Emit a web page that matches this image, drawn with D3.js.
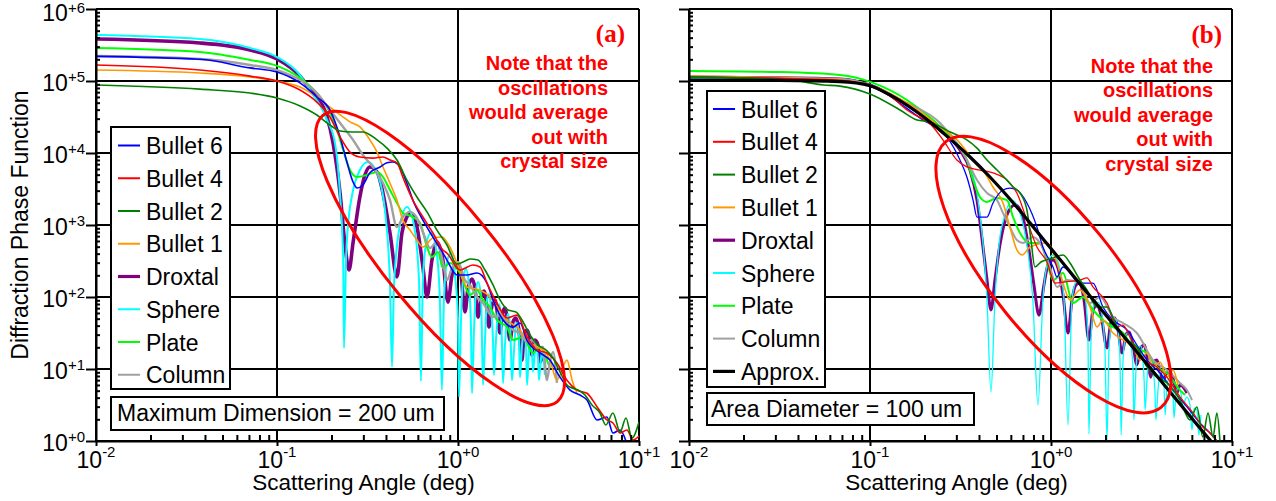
<!DOCTYPE html>
<html>
<head>
<meta charset="utf-8">
<script src="https://cdn.jsdelivr.net/npm/d3@7"></script>
<style>
  html, body { margin: 0; padding: 0; background: #ffffff; }
  svg { display: block; font-family: "Liberation Sans", Arial, sans-serif; }
</style>
</head>
<body>
<svg id="chart" width="1276" height="501"></svg>
<script>
// ---------------------------------------------------------------
// Diffraction phase function vs scattering angle, two size bases.
// Each series is a list of [angle (deg), phase function] pairs.
// ---------------------------------------------------------------

const seriesNames  = ["Bullet 6", "Bullet 4", "Bullet 2", "Bullet 1", "Droxtal", "Sphere", "Plate", "Column", "Approx."];
const seriesColors = ["#0000ff", "#ff0000", "#008000", "#ff9900", "#800080", "#00ffff", "#00ff00", "#a0a0a0", "#000000"];

const xTickExponents = [-2, -1, 0, 1];
const yTickExponents = [0, 1, 2, 3, 4, 5, 6];
const noteLines = ["Note that the", "oscillations", "would average", "out with", "crystal size"];

// ---- (a) Maximum Dimension = 200 um ----
const bullet6A = [[0.01,2.2e5],[0.0375,2.0e5],[0.071,1.52e5],[0.1,1.33e5],[0.134,9.4e4],[0.166,6.0e4],[0.196,3.96e4],[0.223,1.67e4],[0.244,7.3e3],[0.263,3.96e3],[0.277,3.26e3],[0.298,3.6e3],[0.326,5.3e3],[0.371,6.4e3],[0.405,7.3e3],[0.437,7.5e3],[0.478,6.4e3],[0.522,3.8e3],[0.564,2.2e3],[0.64,1.17e3],[0.727,680],[0.825,410],[0.869,326],[0.987,202],[1.12,202],[1.273,215],[1.446,156],[1.561,91],[1.773,48],[2.013,38],[2.2,43.5],[2.406,25],[2.84,16.7],[3.22,13.3],[3.66,7.7],[4.16,5.1],[4.72,4.35],[5.16,3.7],[5.86,1.96],[6.65,2.15],[7.18,1.29],[7.86,1.42],[8.47,1.0]];
const bullet4A = [[0.01,1.67e5],[0.0375,1.42e5],[0.071,1.17e5],[0.1,1.0e5],[0.134,7.5e4],[0.166,5.1e4],[0.196,3.16e4],[0.223,1.67e4],[0.253,1.03e4],[0.287,8.8e3],[0.339,8.5e3],[0.385,8.8e3],[0.421,8.0e3],[0.46,7.3e3],[0.496,4.6e3],[0.564,2.2e3],[0.64,1.29e3],[0.727,774],[0.825,450],[0.869,408],[1.026,237],[1.21,278],[1.323,261],[1.446,156],[1.642,82],[1.866,51],[2.117,56],[2.406,28],[2.73,18.4],[3.1,16.7],[3.52,12.1],[4.0,7.0],[4.54,5.1],[5.16,4.6],[5.86,3.0],[6.65,1.96],[7.18,1.78],[7.86,1.29],[8.58,1.42],[9.26,1.03],[10,1.17]];
const bullet2A = [[0.01,8.8e4],[0.0375,7.7e4],[0.071,6.8e4],[0.1,5.8e4],[0.134,4.5e4],[0.166,3.37e4],[0.196,2.45e4],[0.223,2.02e4],[0.26,1.96e4],[0.298,1.96e4],[0.357,1.52e4],[0.405,1.17e4],[0.46,8.0e3],[0.522,4.2e3],[0.593,2.45e3],[0.674,1.52e3],[0.765,850],[0.869,527],[0.987,287],[1.066,306],[1.165,337],[1.29,326],[1.41,237],[1.561,147],[1.706,91],[1.889,66],[2.09,62],[2.257,48],[2.5,29.7],[2.766,21.5],[3.06,18.4],[3.35,14.2],[3.66,9.1],[4.0,6.0],[4.27,5.45],[4.6,5.1],[5.03,4.35],[5.5,3.16],[6.09,2.45],[6.56,1.67],[7.18,2.45],[7.86,1.33],[8.47,2.09],[9.14,1.1],[10,1.84]];
const bullet1A = [[0.01,1.42e5],[0.0375,1.29e5],[0.071,1.14e5],[0.1,1.0e5],[0.134,8.25e4],[0.166,6.0e4],[0.196,4.35e4],[0.232,3.16e4],[0.253,2.7e4],[0.287,2.3e4],[0.326,1.52e4],[0.357,1.03e4],[0.385,6.4e3],[0.421,3.8e3],[0.46,2.2e3],[0.496,1.17e3],[0.543,850],[0.593,620],[0.64,495],[0.727,660],[0.815,680],[0.902,495],[0.987,297],[1.12,138],[1.323,125],[1.502,100],[1.642,72.6],[1.866,48],[2.2,34.8],[2.406,25.3],[2.73,20.2],[2.948,18.4],[3.22,13.3],[3.52,7.0],[4.0,13.3],[4.27,7.0],[4.54,4.64]];
const droxtalA = [[0.01,3.83e5],[0.0375,3.37e5],[0.071,2.7e5],[0.1,2.02e5],[0.134,1.17e5],[0.158,6.8e4],[0.166,6.0e4],[0.189,3.16e4],[0.204,1.38e4],[0.223,2.78e3],[0.237,562],[0.25,237],[0.263,562],[0.287,2.45e3],[0.306,4.95e3],[0.326,6.4e3],[0.357,5.45e3],[0.385,2.78e3],[0.421,774],[0.46,190],[0.49,774],[0.522,1.29e3],[0.543,1.47e3],[0.593,938],[0.64,261],[0.674,100],[0.718,326],[0.765,581],[0.825,326],[0.88,85],[0.926,202],[0.987,297],[1.039,202],[1.093,62],[1.136,133],[1.195,178],[1.241,133],[1.29,52.7],[1.34,97],[1.392,121],[1.428,91],[1.483,38.3],[1.541,77],[1.6,91],[1.642,66],[1.706,31.6],[1.75,56],[1.818,70],[1.866,51],[1.937,25.3],[2.013,45],[2.09,51],[2.17,34.8],[2.257,13.3],[2.315,29.7],[2.406,34.8],[2.5,25.3],[2.56,15.6],[2.66,25.3],[2.766,21.5],[2.84,12.5],[2.948,17.2]];
const sphereA = [[0.01,4.35e5],[0.0375,3.83e5],[0.071,2.87e5],[0.1,2.15e5],[0.134,1.21e5],[0.158,6.4e4],[0.173,4.6e4],[0.189,2.87e4],[0.209,1.38e4],[0.223,2.6e3],[0.232,326],[0.2345,19.6],[0.2406,326],[0.25,1.38e3],[0.26,2.6e3],[0.287,5.8e3],[0.318,7.5e3],[0.361,4.95e3],[0.40,1.17e3],[0.421,147],[0.432,10.7],[0.443,147],[0.478,1.0e3],[0.522,1.78e3],[0.571,1.0e3],[0.609,172],[0.624,6.8],[0.64,172],[0.665,527],[0.709,774],[0.765,383],[0.794,91],[0.815,5.1],[0.836,91],[0.869,306],[0.914,408],[0.962,202],[1.0,48],[1.013,4.1],[1.039,48],[1.066,172],[1.107,245],[1.15,147],[1.18,34.8],[1.195,4.6],[1.226,34.8],[1.257,125],[1.29,162],[1.34,107],[1.357,25.3],[1.375,6.0],[1.41,25.3],[1.446,91],[1.483,110],[1.522,66],[1.561,25.3],[1.58,8.25],[1.621,25.3],[1.664,66],[1.685,80],[1.729,56],[1.75,21.5],[1.773,6.4],[1.818,21.5],[1.866,51],[1.889,58],[1.937,40.8],[1.962,18.4],[1.987,7.0],[2.04,18.4],[2.09,40.8],[2.117,43.5],[2.17,29.7],[2.2,7.7],[2.257,21.5],[2.315,31.6],[2.375,21.5],[2.406,6.0],[2.468,18.4],[2.5,25.3],[2.56,18.4],[2.596,9.1],[2.66,17.2],[2.69,20.9],[2.766,14.2],[2.8,7.0],[2.87,13.3],[2.91,17.2],[2.98,12.5],[3.02,8.25]];
const plateA = [[0.01,2.87e5],[0.0375,2.53e5],[0.071,1.96e5],[0.1,1.62e5],[0.134,1.1e5],[0.166,6.8e4],[0.189,4.35e4],[0.2145,2.09e4],[0.232,1.1e4],[0.253,5.8e3],[0.277,4.64e3],[0.314,4.95e3],[0.357,5.45e3],[0.385,4.64e3],[0.421,3.06e3],[0.46,2.02e3],[0.496,1.47e3],[0.564,1.29e3],[0.617,1.07e3],[0.674,495],[0.718,359],[0.775,422],[0.825,253],[0.902,297],[1.026,215],[1.165,107],[1.273,125],[1.375,91],[1.502,72.6],[1.642,48],[1.866,38.3],[2.013,25.3],[2.286,27.8],[2.596,16.7],[2.84,20.2],[3.1,13.3],[3.22,10.3]];
const columnA = [[0.01,2.22e5],[0.0375,2.02e5],[0.071,1.67e5],[0.1,1.42e5],[0.134,1.03e5],[0.166,6.8e4],[0.196,3.96e4],[0.232,2.3e4],[0.263,1.52e4],[0.298,9.4e3],[0.339,6.4e3],[0.385,3.83e3],[0.421,2.22e3],[0.46,938],[0.496,1.29e3],[0.543,1.52e3],[0.593,1.25e3],[0.64,800],[0.70,479],[0.765,581],[0.825,306],[0.869,172],[0.926,253],[1.0,306],[1.093,172],[1.165,147],[1.273,100],[1.375,82.5],[1.561,52.7],[1.706,56],[1.866,43.5],[2.013,34.8],[2.2,31.6],[2.406,23.7],[2.596,25.3],[2.73,20.2],[2.948,20.2],[3.1,7.0],[3.22,12.5],[3.35,17.2],[3.52,6.4]];

// ---- (b) Area Diameter = 100 um ----
const bullet6B = [[0.01,1.14e5],[0.0682,1.0e5],[0.1,8.5e4],[0.196,2.87e4],[0.266,1.67e4],[0.314,8.0e3],[0.343,4.64e3],[0.371,2.22e3],[0.39,1.29e3],[0.443,1.29e3],[0.478,2.02e3],[0.543,3.06e3],[0.593,3.26e3],[0.648,3.06e3],[0.736,2.02e3],[0.836,938],[0.902,495],[1.026,261],[1.079,190],[1.165,261],[1.446,156],[1.706,156],[1.937,72.6],[2.2,48],[2.63,34.8],[3.1,18.4],[3.39,13.3],[4.0,8.8],[4.72,5.1],[5.64,2.97],[6.65,1.78],[7.56,1.29],[8.25,1.0]];
const bullet4B = [[0.01,1.14e5],[0.0682,1.03e5],[0.1,8.5e4],[0.129,6.2e4],[0.16,3.96e4],[0.223,2.3e4],[0.253,1.52e4],[0.302,8.0e3],[0.343,6.4e3],[0.405,5.8e3],[0.478,5.3e3],[0.571,4.2e3],[0.648,2.78e3],[0.736,1.17e3],[0.836,495],[0.95,306],[1.052,156],[1.195,162],[1.446,172],[1.58,184],[1.706,138],[2.04,82.5],[2.315,38.3],[2.5,40.8],[2.73,27.8],[3.22,13.3],[3.85,10.7],[4.37,7.7],[5.16,4.1],[6.09,2.45],[6.9,1.565],[7.56,1.29],[8.25,1.0]];
const bullet2B = [[0.01,1.14e5],[0.0361,1.03e5],[0.0553,8.8e4],[0.0682,8.5e4],[0.1,6.6e4],[0.1465,3.96e4],[0.1818,2.87e4],[0.2145,2.7e4],[0.277,1.96e4],[0.343,1.52e4],[0.39,1.17e4],[0.443,8.0e3],[0.503,5.8e3],[0.571,4.2e3],[0.617,3.37e3],[0.674,2.78e3],[0.736,1.62e3],[0.775,619],[0.815,261],[0.88,306],[0.987,337],[1.165,383],[1.273,297],[1.446,172],[1.58,125],[1.796,72.6],[2.04,72.6],[2.315,38.3],[2.63,25.3],[2.98,20.2],[3.39,10.7],[3.85,7.7],[4.37,6.4],[5.16,3.7],[5.86,1.96],[6.4,2.97],[6.9,1.14],[7.37,2.45],[7.86,1.14],[8.25,2.45],[8.58,1.0]];
const bullet1B = [[0.01,1.17e5],[0.0682,1.03e5],[0.1,8.7e4],[0.16,4.95e4],[0.244,2.3e4],[0.314,1.38e4],[0.371,8.0e3],[0.421,5.8e3],[0.478,3.37e3],[0.543,2.02e3],[0.593,938],[0.648,450],[0.694,383],[0.765,495],[0.95,562],[1.079,297],[1.165,156],[1.273,91],[1.446,125],[1.642,72.6],[1.796,38.3],[1.937,48],[2.2,31.6],[2.5,25.3],[2.84,20.2],[3.1,13.3],[3.39,16.7],[3.66,10.7],[4.0,12.5],[4.37,7.7],[4.72,9.7],[5.03,6.0]];
const droxtalB = [[0.01,1.14e5],[0.0682,1.07e5],[0.1,8.8e4],[0.16,4.64e4],[0.244,2.09e4],[0.314,1.1e4],[0.357,5.8e3],[0.39,2.22e3],[0.421,495],[0.443,172],[0.466,66],[0.49,172],[0.522,527],[0.571,1.38e3],[0.632,1.9e3],[0.694,1.38e3],[0.748,527],[0.805,147],[0.858,56],[0.914,147],[0.962,278],[1.026,326],[1.093,253],[1.165,107],[1.241,31.6],[1.306,91],[1.375,147],[1.446,156],[1.522,91],[1.621,25.3],[1.706,66],[1.796,77],[1.889,56],[2.04,19.6],[2.145,45],[2.257,51],[2.345,34.8],[2.468,16.7],[2.596,29.7],[2.69,32.6],[2.84,21.5],[2.98,11.4],[3.14,19.6],[3.27,21.5],[3.43,12.5],[3.56,7.7],[3.7,12.5],[3.85,13.3],[4.0,9.1],[4.16,7.0],[4.37,8.8],[4.54,9.1],[4.78,6.6],[4.96,4.64],[5.16,6.0],[5.43,5.45],[5.64,4.64]];
const sphereB = [[0.01,1.1e5],[0.0682,1.07e5],[0.1,8.8e4],[0.16,4.64e4],[0.244,2.3e4],[0.343,8.0e3],[0.39,2.78e3],[0.421,562],[0.443,91],[0.466,4.8],[0.49,91],[0.516,527],[0.557,1.38e3],[0.609,2.22e3],[0.665,1.62e3],[0.736,527],[0.794,91],[0.847,3.16],[0.902,91],[0.962,306],[1.026,383],[1.107,278],[1.18,91],[1.241,1.67],[1.306,91],[1.375,162],[1.446,172],[1.541,107],[1.6,25.3],[1.621,1.25],[1.664,25.3],[1.729,77],[1.818,85],[1.913,56],[1.987,18.4],[2.04,1.03],[2.09,18.4],[2.17,45],[2.257,51],[2.345,34.8],[2.406,13.3],[2.44,1.21],[2.5,13.3],[2.596,29.7],[2.69,32.6],[2.766,21.5],[2.84,9.7],[2.87,1.96],[2.948,9.7],[3.02,19.6],[3.14,20.9],[3.22,13.3],[3.27,7.0],[3.31,2.7],[3.39,7.0],[3.48,13.3],[3.56,14.2],[3.66,9.7],[3.75,5.1],[3.8,1.96],[3.9,5.1],[4.0,9.1],[4.11,9.7],[4.21,6.0],[4.27,2.3],[4.37,5.45],[4.49,7.5],[4.6,7.0],[4.72,4.8],[4.78,2.09],[4.9,4.35],[5.03,5.45],[5.16,5.1],[5.29,3.7],[5.36,2.7],[5.5,3.7],[5.64,4.08],[5.86,3.16],[6.01,1.42],[6.17,2.87],[6.4,2.7],[6.56,1.21],[6.74,2.3]];
const plateB = [[0.01,1.38e5],[0.0318,1.33e5],[0.0682,1.21e5],[0.104,9.4e4],[0.16,5.45e4],[0.223,2.87e4],[0.287,1.52e4],[0.343,8.0e3],[0.371,4.22e3],[0.405,2.45e3],[0.443,2.09e3],[0.503,2.37e3],[0.571,2.22e3],[0.617,1.29e3],[0.674,774],[0.765,562],[0.869,562],[0.95,306],[1.026,172],[1.165,215],[1.323,82.5],[1.502,100],[1.706,66],[1.937,48],[2.2,38.3],[2.5,31.6],[2.84,20.2],[3.39,16.7],[3.85,10.7],[4.37,8.8],[5.16,5.1],[5.5,4.35]];
const columnB = [[0.01,1.14e5],[0.0682,1.07e5],[0.1,8.8e4],[0.16,4.95e4],[0.244,2.61e4],[0.343,8.0e3],[0.39,4.22e3],[0.443,2.78e3],[0.503,2.22e3],[0.543,1.47e3],[0.593,938],[0.648,619],[0.70,562],[0.794,681],[0.869,562],[0.987,261],[1.079,138],[1.226,172],[1.446,156],[1.642,82.5],[1.866,100],[2.2,52.7],[2.5,43.5],[2.98,31.6],[3.66,13.3],[4.37,9.7],[5.16,6.4],[5.64,5.1],[6.01,3.7]];
const approxB = [[0.01,1.03e5],[0.0318,1.02e5],[0.0682,9.8e4],[0.1,8.6e4],[0.129,6.4e4],[0.166,4.35e4],[0.2145,2.7e4],[0.277,1.57e4],[0.357,8.8e3],[0.46,4.64e3],[0.593,2.3e3],[0.765,1.07e3],[1.026,435],[1.446,152],[2.117,48],[3.39,11.7],[5.16,3.26],[7.56,1.03],[8.15,0.83]];

// ---------------------------------------------------------------
// Panel layout and styling
// ---------------------------------------------------------------
const panels = [
  {
    id: "a", left: 96, right: 639, top: 9, bottom: 441,
    series: [bullet6A, bullet4A, bullet2A, bullet1A, droxtalA, sphereA, plateA, columnA],
    widths: [1.6, 1.6, 1.6, 1.6, 3.6, 2, 2, 2.4],
    legend: { x: 111, y: 127, w: 119, h: 262, first: 154, step: 32.75, lineX: 118, lineW: 22, textX: 146 },
    sizeBox: { x: 111, y: 397, w: 333, h: 33, textX: 117, baseline: 421, text: "Maximum Dimension = 200 um" },
    ellipse: { angle: 0.796, value: 343, rx: 185, ry: 54.5, rotate: 50.7 },
    tag: "(a)", tagRight: 625, tagBase: 42, noteRight: 608, noteBase: 70,
    yLabels: true
  },
  {
    id: "b", left: 689, right: 1232, top: 9, bottom: 441,
    series: [bullet6B, bullet4B, bullet2B, bullet1B, droxtalB, sphereB, plateB, columnB, approxB],
    widths: [1.3, 1.3, 1.6, 1.6, 3, 1.3, 2, 2, 3.2],
    legend: { x: 707, y: 91, w: 118, h: 296, first: 117.5, step: 32.8, lineX: 713, lineW: 22, textX: 741 },
    sizeBox: { x: 707, y: 393, w: 267, h: 32, textX: 711, baseline: 417, text: "Area Diameter = 100 um" },
    ellipse: { angle: 1.032, value: 205, rx: 171, ry: 61, rotate: 51 },
    tag: "(b)", tagRight: 1222, tagBase: 43, noteRight: 1213, noteBase: 72.5,
    yLabels: false
  }
];

// draw order: underlying curves first, bullets and the approximation on top
const drawOrder = [4, 5, 6, 7, 3, 0, 1, 2, 8];

const svg = d3.select("#chart");
const defs = svg.append("defs");

function expLabel(sel, e, mainSize, supSize, supShift) {
  sel.append("tspan").attr("font-size", mainSize).text("10");
  sel.append("tspan").attr("font-size", supSize).attr("dy", supShift)
    .text((e >= 0 ? "+" : "-") + Math.abs(e));
}

panels.forEach(p => {
  const x = d3.scaleLog().domain([0.01, 10]).range([p.left, p.right]);
  const y = d3.scaleLog().domain([1, 1e6]).range([p.bottom, p.top]);
  const g = svg.append("g").attr("class", "panel-" + p.id);

  defs.append("clipPath").attr("id", "clip-" + p.id)
    .append("rect").attr("x", p.left).attr("y", p.top)
    .attr("width", p.right - p.left).attr("height", p.bottom - p.top);

  const xMajor = xTickExponents.map(e => Math.pow(10, e));
  const yMajor = yTickExponents.map(e => Math.pow(10, e));
  const xMinor = [], yMinor = [];
  xMajor.slice(0, -1).forEach(d => { for (let k = 2; k <= 9; k++) xMinor.push(d * k); });
  yMajor.slice(0, -1).forEach(d => { for (let k = 2; k <= 9; k++) yMinor.push(d * k); });

  // grid lines at every decade (the outer ones form the frame)
  g.append("g").selectAll("line").data(xMajor).join("line")
    .attr("x1", d => x(d)).attr("x2", d => x(d))
    .attr("y1", p.top).attr("y2", p.bottom)
    .attr("stroke", "#000").attr("stroke-width", 2);
  g.append("g").selectAll("line").data(yMajor).join("line")
    .attr("x1", p.left).attr("x2", p.right)
    .attr("y1", d => y(d)).attr("y2", d => y(d))
    .attr("stroke", "#000").attr("stroke-width", 2);

  // curves
  const line = d3.line()
    .x(d => x(d[0])).y(d => y(d[1]))
    .curve(d3.curveMonotoneX);
  const curves = g.append("g").attr("clip-path", `url(#clip-${p.id})`);
  drawOrder.forEach(i => {
    if (i >= p.series.length) return;
    curves.append("path")
      .datum(p.series[i])
      .attr("d", line)
      .attr("fill", "none")
      .attr("stroke", seriesColors[i])
      .attr("stroke-width", p.widths[i])
      .attr("stroke-linejoin", "round");
  });

  // highlighted oscillation region
  const el = p.ellipse;
  g.append("ellipse")
    .attr("rx", el.rx).attr("ry", el.ry)
    .attr("transform", `translate(${x(el.angle)},${y(el.value)}) rotate(${el.rotate})`)
    .attr("fill", "none").attr("stroke", "#ff0000").attr("stroke-width", 3);

  // axes: major ticks outside, minor ticks inside
  const xAxisMajor = d3.axisBottom(x).tickValues(xMajor).tickSize(5).tickFormat("").tickSizeOuter(0);
  const xAxisMinor = d3.axisTop(x).tickValues(xMinor).tickSize(6).tickFormat("").tickSizeOuter(0);
  const yAxisMajor = d3.axisLeft(y).tickValues(yMajor).tickSize(10).tickFormat("").tickSizeOuter(0);
  const yAxisMinor = d3.axisRight(y).tickValues(yMinor).tickSize(4).tickFormat("").tickSizeOuter(0);

  const axStyle = s => {
    s.selectAll("path").attr("stroke", "#000").attr("stroke-width", 2);
    s.selectAll("line").attr("stroke", "#000").attr("stroke-width", 2);
  };
  g.append("g").attr("transform", `translate(0,${p.bottom})`).call(xAxisMajor).call(axStyle);
  g.append("g").attr("transform", `translate(0,${p.bottom})`).call(xAxisMinor).call(axStyle)
    .select(".domain").remove();
  g.append("g").attr("transform", `translate(${p.left},0)`).call(yAxisMajor).call(axStyle);
  g.append("g").attr("transform", `translate(${p.left},0)`).call(yAxisMinor).call(axStyle)
    .select(".domain").remove();

  // x tick labels: 10^n
  xTickExponents.forEach(e => {
    const t = g.append("text")
      .attr("x", x(Math.pow(10, e))).attr("y", p.bottom + 26.5)
      .attr("text-anchor", "middle").attr("fill", "#000");
    expLabel(t, e, 23, 15, -11);
  });

  // y tick labels (left panel only); the topmost one is nudged to stay inside the page
  if (p.yLabels) {
    yTickExponents.forEach(e => {
      const yy = Math.max(y(Math.pow(10, e)) + 9.5, 21);
      const t = g.append("text")
        .attr("x", p.left - 11).attr("y", yy)
        .attr("text-anchor", "end").attr("fill", "#000");
      expLabel(t, e, 23, 15, -8.5);
    });
    svg.append("text")
      .attr("transform", `translate(28,${(p.top + p.bottom) / 2}) rotate(-90)`)
      .attr("text-anchor", "middle").attr("font-size", 23).attr("fill", "#000")
      .text("Diffraction Phase Function");
  }

  // x axis title
  g.append("text")
    .attr("x", (p.left + p.right) / 2 - 4).attr("y", 490)
    .attr("text-anchor", "middle").attr("font-size", 22.5).attr("fill", "#000")
    .text("Scattering Angle (deg)");

  // legend
  const L = p.legend;
  const lg = g.append("g");
  lg.append("rect").attr("x", L.x).attr("y", L.y).attr("width", L.w).attr("height", L.h)
    .attr("fill", "#fff").attr("stroke", "#000").attr("stroke-width", 2);
  p.series.forEach((s, i) => {
    const by = L.first + i * L.step;
    lg.append("line")
      .attr("x1", L.lineX).attr("x2", L.lineX + L.lineW)
      .attr("y1", by - 8.5).attr("y2", by - 8.5)
      .attr("stroke", seriesColors[i])
      .attr("stroke-width", (i === 4 || i === 8) ? 3.2 : 2);
    lg.append("text").attr("x", L.textX).attr("y", by)
      .attr("font-size", 23).attr("fill", "#000").text(seriesNames[i]);
  });

  // size basis box
  const B = p.sizeBox;
  g.append("rect").attr("x", B.x).attr("y", B.y).attr("width", B.w).attr("height", B.h)
    .attr("fill", "#fff").attr("stroke", "#000").attr("stroke-width", 2);
  g.append("text").attr("x", B.textX).attr("y", B.baseline)
    .attr("font-size", 23).attr("fill", "#000").text(B.text);

  // panel tag and note
  g.append("text").attr("x", p.tagRight).attr("y", p.tagBase)
    .attr("text-anchor", "end")
    .attr("font-family", "'Liberation Serif', 'Times New Roman', serif")
    .attr("font-weight", "bold").attr("font-size", 25).attr("fill", "#ff0000")
    .text(p.tag);
  noteLines.forEach((t, i) => {
    g.append("text").attr("x", p.noteRight).attr("y", p.noteBase + i * 24.6)
      .attr("text-anchor", "end").attr("font-weight", "bold")
      .attr("font-size", 20).attr("fill", "#ff0000").text(t);
  });
});
</script>
</body>
</html>
